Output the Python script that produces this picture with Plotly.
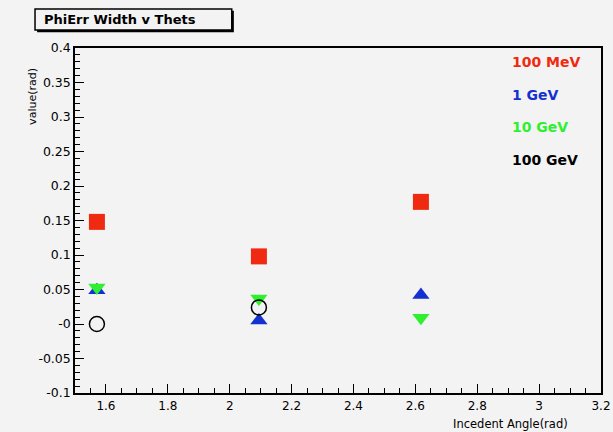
import plotly.graph_objects as go

# Data
angles = [1.5708, 2.0944, 2.618]
mev100 = [0.148, 0.098, 0.177]
gev1 = [0.049, 0.005, 0.042]
gev10 = [0.053, 0.037, 0.009]
angles_100gev = [1.5708, 2.0944]
gev100 = [0.0, 0.024]

series_names = ["100 MeV", "1 GeV", "10 GeV", "100 GeV"]
colors = ["#f02a10", "#1530d0", "#2ef030", "#000000"]

ytickvals = [0.4, 0.35, 0.3, 0.25, 0.2, 0.15, 0.1, 0.05, 0.0, -0.05, -0.1]
yticktext = ["0.4", "0.35", "0.3", "0.25", "0.2", "0.15", "0.1", "0.05", "-0", "-0.05", "-0.1"]
xtickvals = [1.6, 1.8, 2.0, 2.2, 2.4, 2.6, 2.8, 3.0, 3.2]
xticktext = ["1.6", "1.8", "2", "2.2", "2.4", "2.6", "2.8", "3", "3.2"]

x_minor = [round(1.5 + 0.05 * i, 3) for i in range(35)]
y_minor = [round(-0.1 + 0.01 * i, 3) for i in range(51)]

bg = "#f3f3f3"
fig = go.Figure()
fig.add_trace(go.Scatter(x=angles, y=mev100, mode="markers",
                         marker=dict(symbol="square", size=16, color=colors[0])))
fig.add_trace(go.Scatter(x=angles, y=gev1, mode="markers",
                         marker=dict(symbol="triangle-up", size=15, color=colors[1])))
fig.add_trace(go.Scatter(x=angles, y=gev10, mode="markers",
                         marker=dict(symbol="triangle-down", size=15, color=colors[2])))
fig.add_trace(go.Scatter(x=angles_100gev, y=gev100, mode="markers",
                         marker=dict(symbol="circle-open", size=15, color=colors[3],
                                     line=dict(width=1.5, color=colors[3]))))

font = "DejaVu Sans, Verdana, sans-serif"
fig.update_layout(
    width=613, height=432,
    margin=dict(l=75, r=12, t=48, b=39),
    paper_bgcolor=bg, plot_bgcolor=bg,
    showlegend=False,
    font=dict(family=font, size=12, color="black"),
    xaxis=dict(range=[1.5, 3.2], tickmode="array", tickvals=xtickvals, ticktext=xticktext,
               ticks="inside", ticklen=9, tickwidth=1, tickcolor="black",
               showline=True, linecolor="black", linewidth=1.5, mirror=True,
               showgrid=False, zeroline=False, automargin=False,
               ticklabelstandoff=1,
               tickfont=dict(size=12, family=font)),
    yaxis=dict(range=[-0.1, 0.4], tickmode="array", tickvals=ytickvals, ticktext=yticktext,
               ticks="inside", ticklen=9, tickwidth=1, tickcolor="black",
               showline=True, linecolor="black", linewidth=1.5, mirror=True,
               showgrid=False, zeroline=False, automargin=False,
               tickfont=dict(size=12.5, family=font)),
    # overlay axes that only carry the minor ticks
    xaxis2=dict(range=[1.5, 3.2], overlaying="x", side="bottom", anchor="y",
                tickmode="array", tickvals=x_minor, ticks="inside", ticklen=5,
                tickcolor="black", showticklabels=False, showgrid=False,
                zeroline=False, showline=False),
    yaxis2=dict(range=[-0.1, 0.4], overlaying="y", side="left", anchor="x",
                tickmode="array", tickvals=y_minor, ticks="inside", ticklen=5,
                tickcolor="black", showticklabels=False, showgrid=False,
                zeroline=False, showline=False),
)
# invisible trace so the overlay axes are drawn
fig.add_trace(go.Scatter(x=[None], y=[None], xaxis="x2", yaxis="y2",
                         mode="markers", hoverinfo="skip"))

# Title box with shadow
fig.add_shape(type="rect", xref="paper", yref="paper",
              x0=-0.072, x1=0.302, y0=1.046, y1=1.108,
              fillcolor="black", line=dict(width=0))
fig.add_shape(type="rect", xref="paper", yref="paper",
              x0=-0.076, x1=0.298, y0=1.052, y1=1.113,
              fillcolor=bg, line=dict(width=1.5, color="black"))
fig.add_annotation(text="<b>PhiErr Width v Thets</b>", xref="paper", yref="paper",
                   x=0.086, y=1.082, xanchor="center", yanchor="middle", showarrow=False,
                   font=dict(size=13, family=font, color="black"))

# Legend-like labels
legend_y = [0.960, 0.864, 0.771, 0.675]
for name, c, yy in zip(series_names, colors, legend_y):
    fig.add_annotation(text="<b>" + name + "</b>", xref="paper", yref="paper",
                       x=0.827, y=yy, xanchor="left", yanchor="middle", showarrow=False,
                       font=dict(size=14, family=font, color=c))

# Axis titles
fig.add_annotation(text="value(rad)", xref="paper", yref="paper",
                   x=-0.080, y=0.861, xanchor="center", yanchor="middle",
                   textangle=-90, showarrow=False,
                   font=dict(size=11, family=font))
fig.add_annotation(text="Incedent Angle(rad)", xref="paper", yref="paper",
                   x=0.827, y=-0.090, xanchor="center", yanchor="middle", showarrow=False,
                   font=dict(size=11.5, family=font))

fig.write_html("out.html", config={"displayModeBar": False})

# remove default body margin so the figure sits at the window origin
with open("out.html", "r", encoding="utf-8") as f:
    html = f.read()
html = html.replace("<body>", '<body style="margin:0;overflow:hidden">', 1)
with open("out.html", "w", encoding="utf-8") as f:
    f.write(html)
